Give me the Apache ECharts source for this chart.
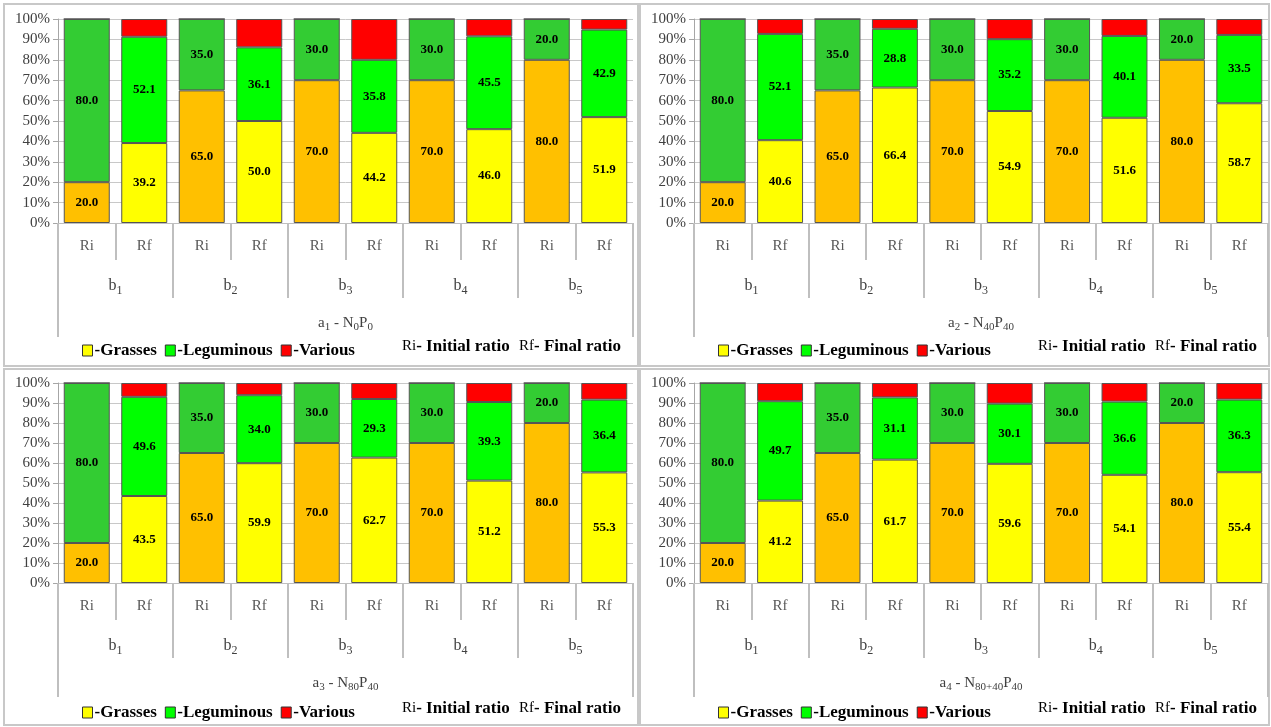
<!DOCTYPE html>
<html>
<head>
<meta charset="utf-8">
<script src="https://cdn.jsdelivr.net/npm/echarts@6/dist/echarts.min.js"></script>
<style>
  html, body { margin: 0; padding: 0; background: #fff; }
  #main { width: 1271px; height: 727px; }
</style>
</head>
<body>
<div id="main"></div>
<script>
// categories
var groups = ['1', '2', '3', '4', '5']            // b subscripts
var ratios = ['Ri', 'Rf']
var yTicks = [0, 10, 20, 30, 40, 50, 60, 70, 80, 90, 100]

// initial ratio (same in every panel)
var riGrasses = [20.0, 65.0, 70.0, 70.0, 80.0]
var riLeguminous = [80.0, 35.0, 30.0, 30.0, 20.0]
var riVarious = [0, 0, 0, 0, 0]

// final ratio, per fertilisation
var a1Grasses = [39.2, 50.0, 44.2, 46.0, 51.9]
var a1Leguminous = [52.1, 36.1, 35.8, 45.5, 42.9]
var a1Various = [8.7, 13.9, 20.0, 8.5, 5.2]

var a2Grasses = [40.6, 66.4, 54.9, 51.6, 58.7]
var a2Leguminous = [52.1, 28.8, 35.2, 40.1, 33.5]
var a2Various = [7.3, 4.8, 9.9, 8.3, 7.8]

var a3Grasses = [43.5, 59.9, 62.7, 51.2, 55.3]
var a3Leguminous = [49.6, 34.0, 29.3, 39.3, 36.4]
var a3Various = [6.9, 6.1, 8.0, 9.5, 8.3]

var a4Grasses = [41.2, 61.7, 59.6, 54.1, 55.4]
var a4Leguminous = [49.7, 31.1, 30.1, 36.6, 36.3]
var a4Various = [9.1, 7.2, 10.3, 9.3, 8.3]

// panel titles as rich text
var titles = [
  'a{s|1}{n| - N}{s|0}{n|P}{s|0}',
  'a{s|2}{n| - N}{s|40}{n|P}{s|40}',
  'a{s|3}{n| - N}{s|80}{n|P}{s|40}',
  'a{s|4}{n| - N}{s|80+40}{n|P}{s|40}'
]

var panels = [
  {g: a1Grasses, l: a1Leguminous, v: a1Various, left: 58, right: 638, top: 19, height: 204, leg: 114},
  {g: a2Grasses, l: a2Leguminous, v: a2Various, left: 694, right: 3, top: 19, height: 204, leg: 114},
  {g: a3Grasses, l: a3Leguminous, v: a3Various, left: 58, right: 638, top: 383, height: 200, leg: 116},
  {g: a4Grasses, l: a4Leguminous, v: a4Various, left: 694, right: 3, top: 383, height: 200, leg: 116}
]

var FONT = '"Liberation Serif", "DejaVu Serif", serif'
var C = {
  orange: '#FFC000',
  darkGreen: '#33CC33',
  yellow: '#FFFF00',
  green: '#00FF00',
  red: '#FF0000',
  sep: '#BFBFBF'
}

var chart = echarts.init(document.getElementById('main'))

var grid = []
var xAxis = []
var yAxis = []
var series = []
var legend = []
var graphic = []

var cats = []
groups.forEach(function () {
  ratios.forEach(function (r) { cats.push(r) })
})

function interleave (ri, rf, riColor, rfColor) {
  var out = []
  for (var i = 0; i < ri.length; i++) {
    out.push({value: ri[i], itemStyle: {color: riColor}})
    out.push({value: rf[i], itemStyle: {color: rfColor}})
  }
  return out
}

var barLabel = {
  show: true,
  position: 'inside',
  color: '#000',
  fontFamily: FONT,
  fontWeight: 'bold',
  fontSize: 13,
  formatter: function (p) { return p.value > 0 ? p.value.toFixed(1) : '' }
}

panels.forEach(function (p, i) {
  grid.push({left: p.left, right: p.right, top: p.top, height: p.height})
  var plotBottom = p.top + p.height

  // level 1: Ri / Rf
  xAxis.push({
    type: 'category', gridIndex: i, position: 'bottom', data: cats,
    axisLine: {show: true, lineStyle: {color: C.sep, width: 1}},
    axisTick: {show: true, length: 37, lineStyle: {color: C.sep, width: 2}},
    axisLabel: {margin: 16, color: '#595959', fontFamily: FONT, fontSize: 15}
  })
  // level 2: b groups
  xAxis.push({
    type: 'category', gridIndex: i, position: 'bottom', data: groups,
    axisLine: {show: false},
    axisTick: {show: true, length: 75, lineStyle: {color: C.sep, width: 2}},
    axisLabel: {
      margin: 52, color: '#404040', fontFamily: FONT, fontSize: 16,
      formatter: function (v) { return 'b{s|' + v + '}' },
      rich: {s: {fontSize: 12, fontFamily: FONT, color: '#404040', padding: [10, 0, 0, 0]}}
    }
  })
  // level 3: fertilisation title
  xAxis.push({
    type: 'category', gridIndex: i, position: 'bottom', data: [titles[i]],
    axisLine: {show: false},
    axisTick: {show: true, length: 114, lineStyle: {color: C.sep, width: 2}},
    axisLabel: {
      margin: 90, color: '#404040', fontFamily: FONT, fontSize: 15,
      rich: {
        n: {fontSize: 15, fontFamily: FONT, color: '#404040'},
        s: {fontSize: 11, fontFamily: FONT, color: '#404040', padding: [9, 0, 0, 0]}
      }
    }
  })

  yAxis.push({
    type: 'value', gridIndex: i, min: yTicks[0], max: yTicks[yTicks.length - 1], interval: 10,
    axisLine: {show: true, lineStyle: {color: '#A6A6A6'}},
    axisTick: {show: true, length: 5, lineStyle: {color: '#A6A6A6'}},
    splitLine: {show: true, lineStyle: {color: '#C8C8C8', width: 1}},
    axisLabel: {margin: 8, color: '#404040', fontFamily: FONT, fontSize: 15, formatter: '{value}%'}
  })

  var common = {
    type: 'bar', stack: 'p' + i, xAxisIndex: i * 3, yAxisIndex: i,
    barCategoryGap: '20%',
    label: barLabel
  }
  series.push(Object.assign({}, common, {
    name: 'Grasses',
    itemStyle: {color: C.yellow, borderColor: '#555', borderWidth: 1},
    data: interleave(riGrasses, p.g, C.orange, C.yellow)
  }))
  series.push(Object.assign({}, common, {
    name: 'Leguminous',
    itemStyle: {color: C.green, borderColor: '#555', borderWidth: 1},
    data: interleave(riLeguminous, p.l, C.darkGreen, C.green)
  }))
  series.push(Object.assign({}, common, {
    name: 'Various',
    itemStyle: {color: C.red, borderColor: '#555', borderWidth: 1},
    label: {show: false},
    data: interleave(riVarious, p.v, C.red, C.red)
  }))

  var legTop = plotBottom + p.leg
  legend.push({
    data: ['Grasses', 'Leguminous', 'Various'],
    left: p.left + 19, top: legTop,
    icon: 'rect', itemWidth: 10, itemHeight: 11, itemGap: 8,
    itemStyle: {borderColor: '#333', borderWidth: 1},
    selectedMode: false,
    formatter: function (n) { return '-' + n },
    textStyle: {fontFamily: FONT, fontWeight: 'bold', fontSize: 17, color: '#000', padding: [0, 0, 0, -3]}
  })

  var ratioStyle = {
    fontFamily: FONT, fontSize: 17, fontWeight: 'bold', fill: '#000',
    rich: {
      g: {fontFamily: FONT, fontSize: 15, fontWeight: 'normal', color: '#595959'},
      b: {fontFamily: FONT, fontSize: 17, fontWeight: 'bold', color: '#000'}
    }
  }
  graphic.push({
    type: 'text', left: p.left + 344, top: legTop + 1,
    style: Object.assign({text: '{g|Ri}{b|- Initial ratio}'}, ratioStyle)
  })
  graphic.push({
    type: 'text', left: p.left + 461, top: legTop + 1,
    style: Object.assign({text: '{g|Rf}{b|- Final ratio}'}, ratioStyle)
  })
})

// panel frames
var frames = [[4, 4, 634, 362], [640, 4, 629, 362], [4, 369, 634, 356], [640, 369, 629, 356]]
frames.forEach(function (f) {
  graphic.push({
    type: 'rect', silent: true, z: -10,
    shape: {x: f[0], y: f[1], width: f[2], height: f[3]},
    style: {fill: 'none', stroke: '#C8C8C8', lineWidth: 2}
  })
})

chart.setOption({
  animation: false,
  grid: grid,
  xAxis: xAxis,
  yAxis: yAxis,
  legend: legend,
  series: series,
  graphic: graphic
})
</script>
</body>
</html>
